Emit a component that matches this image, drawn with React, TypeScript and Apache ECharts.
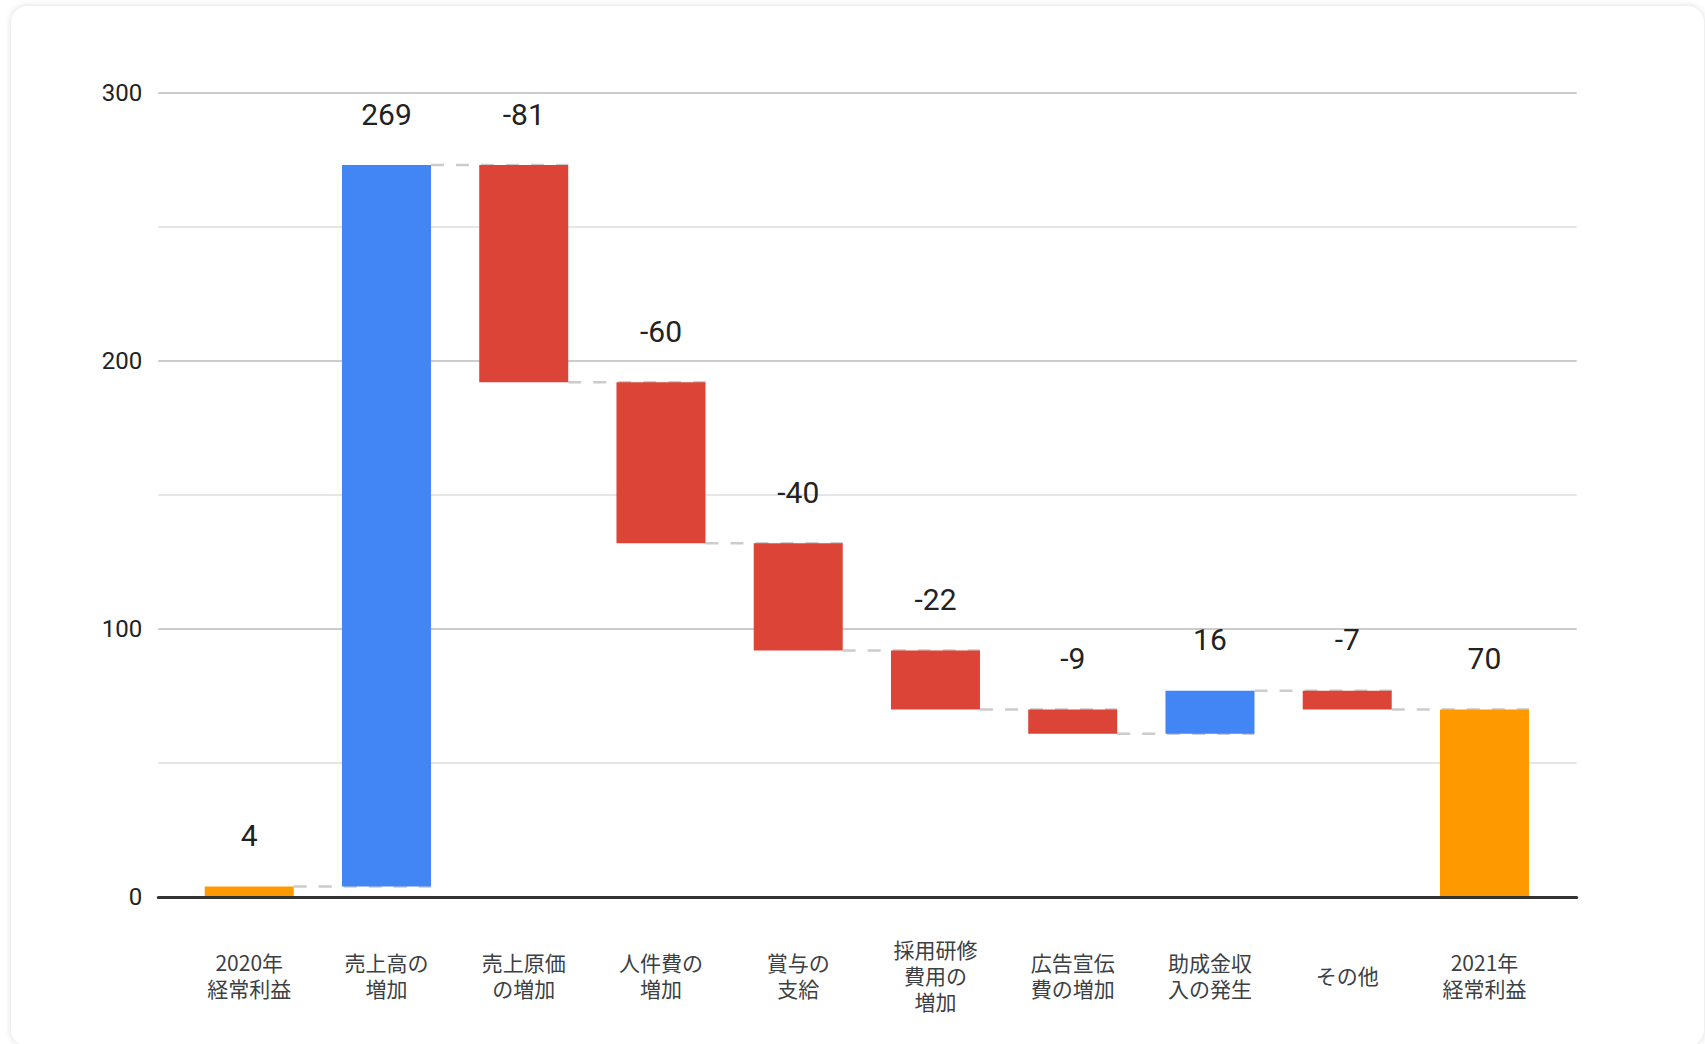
import React, { useEffect, useRef } from "react";
import * as echarts from "echarts";

const categories = [
  "2020年\n経常利益",
  "売上高の\n増加",
  "売上原価\nの増加",
  "人件費の\n増加",
  "賞与の\n支給",
  "採用研修\n費用の\n増加",
  "広告宣伝\n費の増加",
  "助成金収\n入の発生",
  "その他",
  "2021年\n経常利益",
];
const changes = [4, 269, -81, -60, -40, -22, -9, 16, -7, 70];
const isTotal = [true, false, false, false, false, false, false, false, false, true];
const yTicks = [0, 100, 200, 300];

const COLOR_TOTAL = "#FF9900";
const COLOR_UP = "#4285F4";
const COLOR_DOWN = "#DB4437";
const BAR_W = 89;

export default function App() {
  const ref = useRef<HTMLDivElement>(null);

  useEffect(() => {
    if (!ref.current) return;
    const chart = echarts.init(ref.current, null, { renderer: "svg" });

    const bases: number[] = [];
    const heights: any[] = [];
    const levels: number[] = [];
    let run = 0;
    changes.forEach((c, i) => {
      if (isTotal[i]) {
        bases.push(0);
        heights.push({ value: c, itemStyle: { color: COLOR_TOTAL } });
        run = c;
      } else {
        const start = run;
        const end = run + c;
        bases.push(Math.min(start, end));
        heights.push({
          value: Math.abs(c),
          itemStyle: { color: c >= 0 ? COLOR_UP : COLOR_DOWN },
        });
        run = end;
      }
      levels.push(run);
    });
    const connectorData = levels.slice(0, levels.length - 1).map((lv, i) => [i, lv]);

    const yMin = yTicks[0];
    const yMax = yTicks[yTicks.length - 1];

    chart.setOption({
      animation: false,
      grid: [
        { left: 158.3, right: 128.3, top: 92.7, bottom: 146.7 },
        { left: 180.6, right: 151.9, top: 92.7, bottom: 146.7 },
      ],
      xAxis: [
        {
          gridIndex: 0,
          type: "category",
          data: [""],
          axisLine: { show: true, lineStyle: { color: "#333333", width: 3 } },
          axisTick: { show: false },
          axisLabel: { show: false },
          splitLine: { show: false },
          z: 5,
        },
        {
          gridIndex: 1,
          type: "category",
          data: categories,
          axisLine: { show: false },
          axisTick: { show: false },
          axisLabel: {
            interval: 0,
            margin: 77.5,
            verticalAlign: "middle",
            lineHeight: 26,
            fontSize: 21,
            color: "#3c4043",
            fontFamily: "'Noto Sans CJK JP', 'Noto Sans', sans-serif",
          },
        },
      ],
      yAxis: [
        {
          gridIndex: 0,
          type: "value",
          min: yMin,
          max: yMax,
          interval: 100,
          axisLine: { show: false },
          axisTick: { show: false },
          axisLabel: {
            margin: 16,
            fontSize: 24,
            color: "#222222",
            fontFamily: "Roboto, 'Noto Sans', sans-serif",
          },
          splitLine: { show: true, lineStyle: { color: "#cccccc", width: 2 } },
          minorTick: { show: false, splitNumber: 2 },
          minorSplitLine: { show: true, lineStyle: { color: "#e6e6e6", width: 2 } },
        },
        {
          gridIndex: 1,
          type: "value",
          min: yMin,
          max: yMax,
          interval: 100,
          show: false,
          splitLine: { show: false },
        },
      ],
      series: [
        {
          type: "custom",
          xAxisIndex: 1,
          yAxisIndex: 1,
          z: 1,
          silent: true,
          data: connectorData,
          encode: { x: 0, y: 1 },
          renderItem: (params: any, api: any) => {
            const i = api.value(0);
            const lv = api.value(1);
            const p1 = api.coord([i, lv]);
            const p2 = api.coord([i + 1, lv]);
            return {
              type: "line",
              shape: {
                x1: p1[0] + BAR_W / 2,
                y1: p1[1],
                x2: p2[0] + BAR_W / 2,
                y2: p2[1],
              },
              style: { stroke: "#cccccc", lineWidth: 2.5, lineDash: [13, 12] },
            };
          },
        },
        {
          type: "bar",
          xAxisIndex: 1,
          yAxisIndex: 1,
          stack: "wf",
          barWidth: BAR_W,
          z: 2,
          silent: true,
          itemStyle: { color: "transparent" },
          data: bases,
        },
        {
          type: "bar",
          xAxisIndex: 1,
          yAxisIndex: 1,
          stack: "wf",
          barWidth: BAR_W,
          z: 2,
          data: heights,
          label: {
            show: true,
            position: "top",
            distance: 36,
            fontSize: 30,
            color: "#222222",
            fontFamily: "Roboto, 'Noto Sans', sans-serif",
            formatter: (p: any) => String(changes[p.dataIndex]),
          },
        },
      ],
    });

    return () => chart.dispose();
  }, []);

  return (
    <div
      style={{
        position: "fixed",
        left: 0,
        top: 0,
        width: 1705,
        height: 1044,
        background: "#ffffff",
        overflow: "hidden",
      }}
    >
      <div
        style={{
          position: "absolute",
          left: 11,
          top: 6,
          width: 1693,
          height: 1040,
          background: "#ffffff",
          borderRadius: 16,
          boxShadow: "0 0 7px rgba(0,0,0,0.14)",
        }}
      />
      <div
        ref={ref}
        style={{ position: "absolute", left: 0, top: 0, width: 1705, height: 1044 }}
      />
    </div>
  );
}
